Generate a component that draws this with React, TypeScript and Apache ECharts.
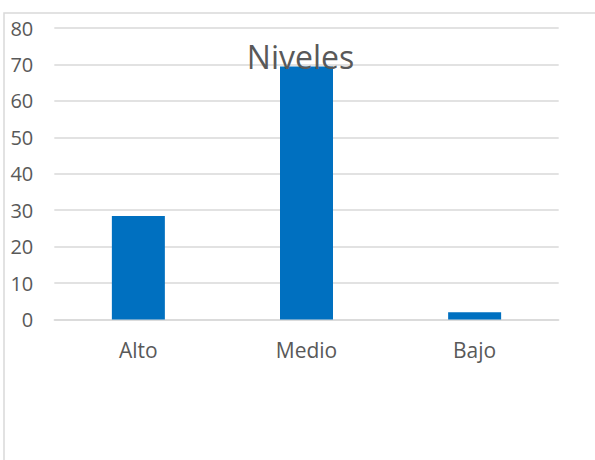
import React, { useEffect, useRef } from "react";
import * as echarts from "echarts";

const categories = ["Alto", "Medio", "Bajo"];
const values = [28.4, 69.4, 2.0];
const titleText = "Niveles";

export default function App() {
  const ref = useRef<HTMLDivElement>(null);
  useEffect(() => {
    if (!ref.current) return;
    const chart = echarts.init(ref.current, undefined, { renderer: "svg" });
    chart.setOption({
      animation: false,
      backgroundColor: "#ffffff",
      textStyle: { fontFamily: "Open Sans" },
      grid: { left: 54.3, right: 36.3, top: 28, bottom: 140.5, containLabel: false },
      xAxis: {
        type: "category",
        data: categories,
        axisLine: { show: true, lineStyle: { color: "#d9d9d9", width: 1.5 } },
        axisTick: { show: false },
        axisLabel: { color: "#595959", fontSize: 21, margin: 20, fontFamily: "Open Sans" },
      },
      yAxis: {
        type: "value",
        min: 0,
        max: 80,
        interval: 10,
        axisLine: { show: false },
        axisTick: { show: false },
        splitLine: { lineStyle: { color: "#d9d9d9", width: 1.5 } },
        axisLabel: { color: "#595959", fontSize: 20, margin: 21, fontFamily: "Open Sans" },
      },
      series: [
        {
          type: "bar",
          data: values,
          barWidth: 53,
          itemStyle: { color: "#0070C0" },
          z: 2,
        },
      ],
      graphic: [
        {
          type: "text",
          x: 300.5,
          y: 56,
          z: 50,
          style: {
            text: titleText,
            fontFamily: "Open Sans",
            fontSize: 32,
            fill: "#595959",
            textAlign: "center",
            textVerticalAlign: "middle",
          },
        },
        {
          type: "rect",
          shape: { x: 4, y: 13, width: 800, height: 800 },
          style: { fill: "none", stroke: "#d9d9d9", lineWidth: 1.5 },
          silent: true,
          z: 100,
        },
      ],
    });
    return () => chart.dispose();
  }, []);
  return (
    <div
      ref={ref}
      style={{ position: "fixed", left: 0, top: 0, width: 595, height: 460 }}
    />
  );
}
